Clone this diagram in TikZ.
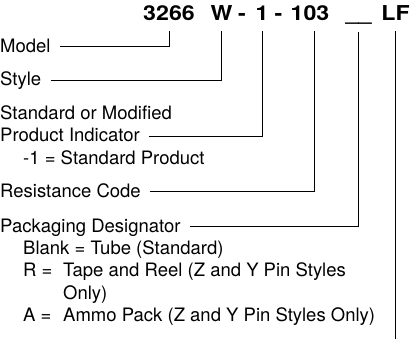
\documentclass[tikz,border=0pt]{standalone}
\usepackage{fontspec}
\setmainfont{TeX Gyre Heros}
\newfontfamily\hdrfont{TeX Gyre Heros}[FakeStretch=1.13]
\usepackage{tikz}
\usetikzlibrary{positioning}

\begin{document}
\begin{tikzpicture}[
        x=1pt, y=-1pt,
        hdr/.style={anchor=base, inner sep=0pt, text depth=0pt, outer ysep=11pt, font=\hdrfont\bfseries\fontsize{20.5}{24}\selectfont},
        lbl/.style={anchor=base west, inner sep=0pt, text height=11pt, text depth=0pt, font=\fontsize{18.5}{22}\selectfont},
        lead/.style={line width=1pt},
        leader/.style={lead, shorten <=9.5pt}
    ]
    \useasboundingbox (0,0) rectangle (420,339);

    % part number
    \node[hdr] (model) at (169,20.3) {3266};
    \node[hdr] (style) at (221.5,20.3) {W};
    \node[hdr] (dasha) at (242,20.3) {-};
    \node[hdr] (indicator) at (262,20.3) {1};
    \node[hdr] (dashb) at (278.5,20.3) {-};
    \node[hdr] (resist) at (310,20.3) {103};
    \node[hdr] (pack) at (358.5,20.3) {\_\_};
    \node[hdr] (leadfree) at (395.5,20.3) {LF};
    \coordinate (bottom) at (0,339);

    % labels
    \node[lbl] (modellbl) at (0,52.5) {Model};
    \node[lbl] (stylelbl) at (0,86) {Style};
    \node[lbl] (stdtop) at (0,119.5) {Standard or Modified};
    \node[lbl] (stdlbl) at (0,141.7) {Product Indicator};
    \node[lbl] (stdnote) at (23,165) {-1 = Standard Product};
    \node[lbl] (reslbl) at (0,197.3) {Resistance Code};
    \node[lbl] (packlbl) at (0,232) {Packaging Designator};
    \node[lbl] (blank) at (23,254) {Blank = Tube (Standard)};
    \node[lbl] (rkey) at (23,276.5) {R =};
    \node[lbl] (rtext) at (63,276.5) {Tape and Reel (Z and Y Pin Styles};
    \node[lbl] (rtextb) at (63,299) {Only)};
    \node[lbl] (akey) at (23,321.5) {A =};
    \node[lbl] (atext) at (63,321.5) {Ammo Pack (Z and Y Pin Styles Only)};

    \draw[leader] (modellbl.east) -| (model.south);
    \draw[leader] (stylelbl.east) -| (style.south);
    \draw[leader] (stdlbl.east) -| ([xshift=0.7pt]indicator.south);
    \draw[leader] (reslbl.east) -| ([xshift=4pt]resist.south);
    \draw[leader] (packlbl.east) -| (pack.south);
    \draw[lead] (leadfree.south) -- (leadfree.south |- bottom);
\end{tikzpicture}
\end{document}
